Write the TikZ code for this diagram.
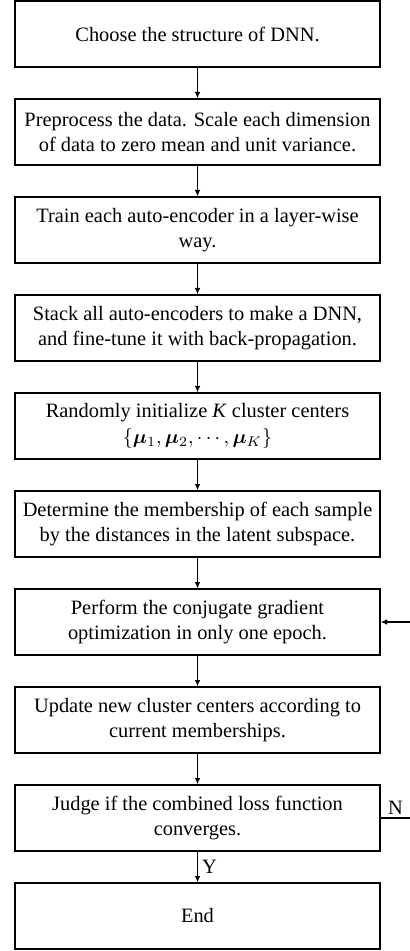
\documentclass[tikz,border=0pt]{standalone}
\usepackage{fontspec}
\setmainfont{Liberation Serif}
\usepackage{bm}
\usetikzlibrary{positioning,arrows.meta}

\tikzset{
  stepbox/.style={draw, line width=0.6pt, minimum width=182.5pt, minimum height=33pt,
    align=center, inner sep=2pt, font=\fontsize{10.2}{12.8}\selectfont},
  flow/.style={->, line width=0.6pt},
  marktext/.style={font=\fontsize{10.2}{12}\selectfont},
}

\begin{document}
\begin{tikzpicture}[>={Latex[length=3.2pt,width=2.8pt]}, node distance=15.4pt]
	
	\useasboundingbox (0,0) rectangle (204.5pt,-475.5pt);
	
	% Schritte
	\node[stepbox] (choose) at (98.75pt,-17pt) {Choose the structure of DNN.};
	\node[stepbox, below=of choose] (preproc) {Preprocess the data. Scale each dimension\\of data to zero mean and unit variance.};
	\node[stepbox, below=of preproc] (train) {Train each auto-encoder in a layer-wise\\way.};
	\node[stepbox, below=of train] (stack) {Stack all auto-encoders to make a DNN,\\and fine-tune it with back-propagation.};
	\node[stepbox, below=of stack] (init) {Randomly initialize \textit{K} cluster centers\\$\{\bm{\mu}_1,\bm{\mu}_2,\cdots,\bm{\mu}_K\}$};
	\node[stepbox, below=of init] (member) {Determine the membership of each sample\\by the distances in the latent subspace.};
	\node[stepbox, below=of member] (perform) {Perform the conjugate gradient\\optimization in only one epoch.};
	\node[stepbox, below=of perform] (update) {Update new cluster centers according to\\current memberships.};
	\node[stepbox, below=of update] (judge) {Judge if the combined loss function\\converges.};
	\node[stepbox, below=of judge] (finish) {End};
	
	% Pfeile
	\foreach \a/\b in {choose/preproc, preproc/train, train/stack, stack/init,
		init/member, member/perform, perform/update, update/judge}
		\draw[flow] (\a) -- (\b);
	\draw[flow] (judge) -- node[right, marktext, inner sep=2pt] {Y} (finish);
	
	% Rueckfuehrung
	\draw[flow] (judge.east) -- ++(15pt,0) node[midway, above, marktext, inner sep=1.5pt] {N}
		|- (perform.east);
	
\end{tikzpicture}
\end{document}
